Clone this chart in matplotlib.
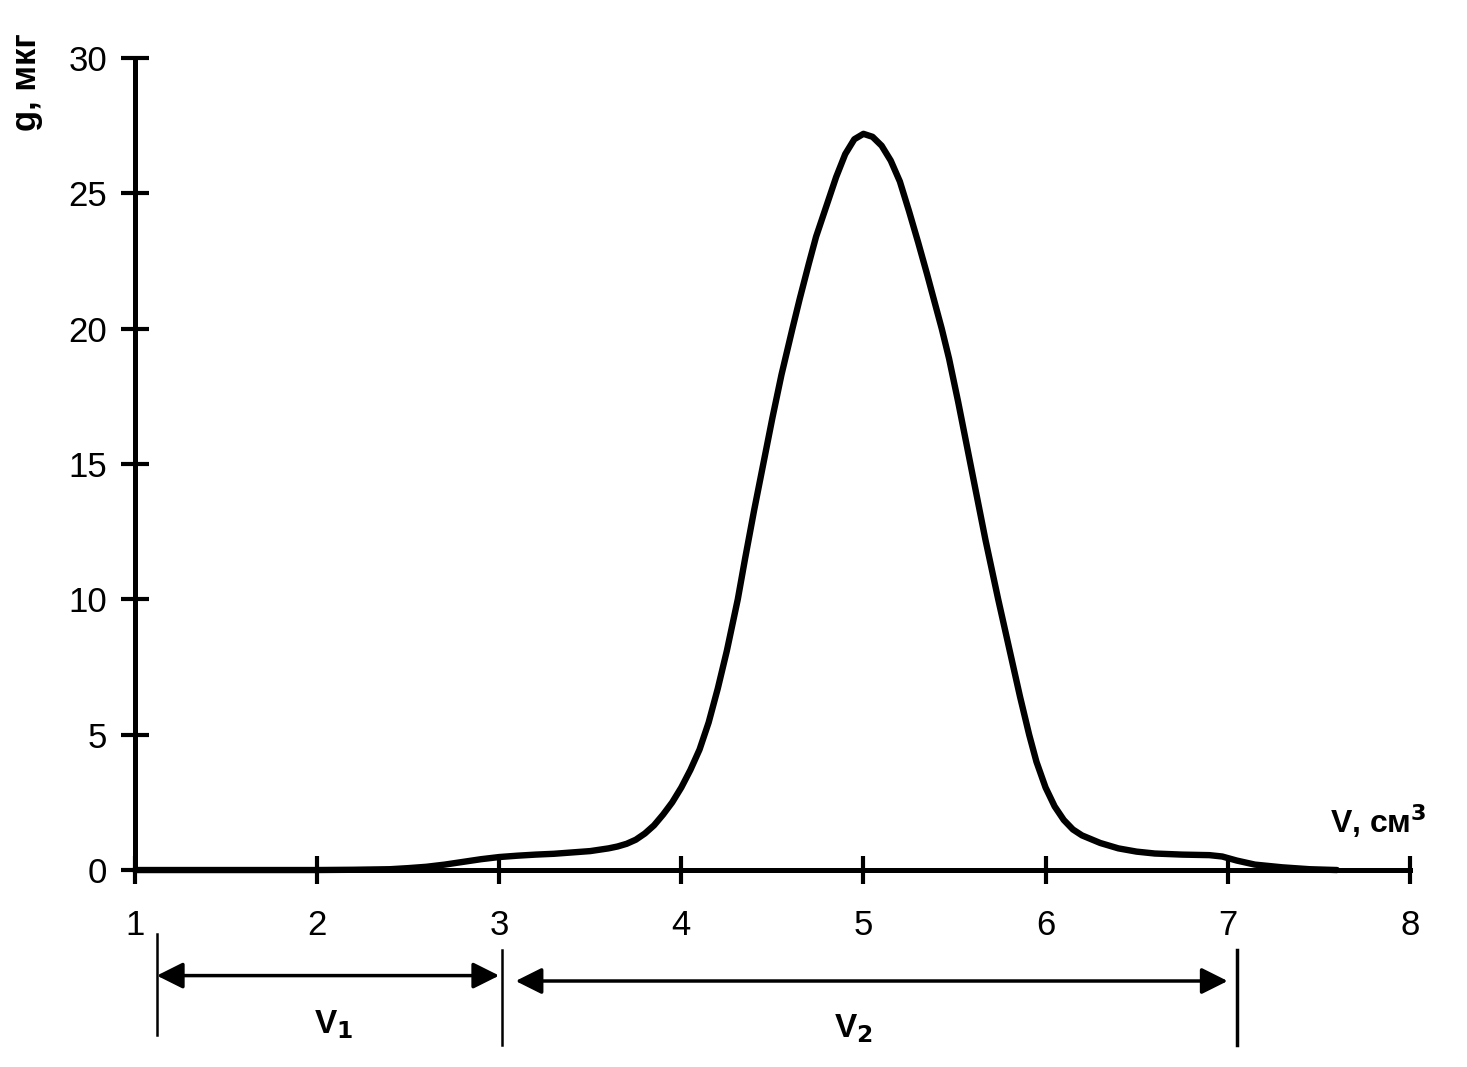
import numpy as np
import matplotlib.pyplot as plt

plt.rcParams['font.family'] = ['Liberation Sans', 'DejaVu Sans']

# кривая элюирования
V = [1.0, 2.0, 2.2, 2.4, 2.5, 2.6, 2.7, 2.8, 2.9, 3.0, 3.1, 3.2, 3.3, 3.4, 3.5,
     3.6, 3.65, 3.7, 3.75, 3.8, 3.85, 3.9, 3.95, 4.0, 4.05, 4.1, 4.15, 4.2,
     4.25, 4.31, 4.35, 4.4, 4.45, 4.5, 4.55, 4.61, 4.65, 4.7, 4.74, 4.78,
     4.82, 4.85, 4.9, 4.95, 5.0, 5.05, 5.1, 5.15, 5.2, 5.25, 5.3, 5.35, 5.4,
     5.43, 5.47, 5.52, 5.57, 5.62, 5.67, 5.74, 5.8, 5.86, 5.91, 5.95, 6.0,
     6.05, 6.1, 6.15, 6.2, 6.3, 6.4, 6.5, 6.6, 6.75, 6.9, 6.97, 7.05, 7.15,
     7.3, 7.45, 7.6]
g = [0.0, 0.0, 0.01, 0.03, 0.07, 0.12, 0.2, 0.3, 0.4, 0.48, 0.53, 0.57, 0.6, 0.65,
     0.7, 0.8, 0.87, 0.97, 1.12, 1.35, 1.65, 2.05, 2.5, 3.05, 3.7, 4.45, 5.45,
     6.7, 8.1, 10.0, 11.5, 13.3, 15.0, 16.7, 18.3, 20.0, 21.1, 22.4, 23.4,
     24.2, 25.0, 25.6, 26.45, 27.0, 27.2, 27.09, 26.76, 26.21, 25.44, 24.35,
     23.2, 22.0, 20.75, 20.0, 18.9, 17.3, 15.6, 13.9, 12.2, 10.0, 8.2, 6.4,
     5.0, 4.0, 3.05, 2.35, 1.85, 1.5, 1.28, 1.0, 0.8, 0.68, 0.61, 0.57, 0.55,
     0.5, 0.35, 0.2, 0.1, 0.03, 0.0]

x_ticks = [1, 2, 3, 4, 5, 6, 7, 8]
y_ticks = [0, 5, 10, 15, 20, 25, 30]

# интервалы V1 и V2 (стрелки под осью)
v1_arrow = [1.12, 3.0]
v2_arrow = [3.09, 7.0]
bound_lines = [1.12, 3.015, 7.05]
arrow_y = [-3.9, -4.1]

fig = plt.figure(figsize=(14.67, 10.67), dpi=100)
ax = fig.add_axes([0.092, 0.1846, 0.869, 0.761])

ax.plot(V, g, color='black', lw=4.6, solid_capstyle='round',
        solid_joinstyle='round', clip_on=False, zorder=3)

ax.set_xlim(1, 8)
ax.set_ylim(0, 30)
ax.set_xticks(x_ticks)
ax.set_yticks(y_ticks)
for s in ['top', 'right']:
    ax.spines[s].set_visible(False)
for s in ['left', 'bottom']:
    ax.spines[s].set_linewidth(3.6)
ax.tick_params(direction='inout', length=20, width=3, labelsize=25)
ax.tick_params(axis='x', pad=18)
ax.tick_params(axis='y', pad=10)

ax.text(-0.085, 1.03, 'g, мкг', transform=ax.transAxes, rotation=90,
        fontsize=25, fontweight='bold', ha='center', va='top')
ax.text(7.83, 1.1, 'V, см$^{\\mathbf{3}}$', fontsize=23, fontweight='bold',
        ha='center', va='bottom')

# размерные стрелки
ax.annotate('', xy=(v1_arrow[0], arrow_y[0]), xytext=(v1_arrow[1], arrow_y[0]),
            annotation_clip=False,
            arrowprops=dict(arrowstyle='<|-|>', color='black', lw=2.5,
                            mutation_scale=40, shrinkA=0, shrinkB=0))
ax.annotate('', xy=(v2_arrow[0], arrow_y[1]), xytext=(v2_arrow[1], arrow_y[1]),
            annotation_clip=False,
            arrowprops=dict(arrowstyle='<|-|>', color='black', lw=2.5,
                            mutation_scale=40, shrinkA=0, shrinkB=0))
ax.plot([bound_lines[0]] * 2, [-2.35, -6.1], color='black', lw=1.8, clip_on=False)
ax.plot([bound_lines[1]] * 2, [-2.95, -6.45], color='black', lw=1.8, clip_on=False)
ax.plot([bound_lines[2]] * 2, [-2.95, -6.45], color='black', lw=2.5, clip_on=False)

ax.text(np.mean(v1_arrow) + 0.03, -5.7, 'V$_\\mathbf{1}$', fontsize=24, fontweight='bold',
        ha='center', va='center')
ax.text(np.mean(v2_arrow) - 0.1, -5.85, 'V$_\\mathbf{2}$', fontsize=24, fontweight='bold',
        ha='center', va='center')

fig.savefig('out.png', dpi=100)
